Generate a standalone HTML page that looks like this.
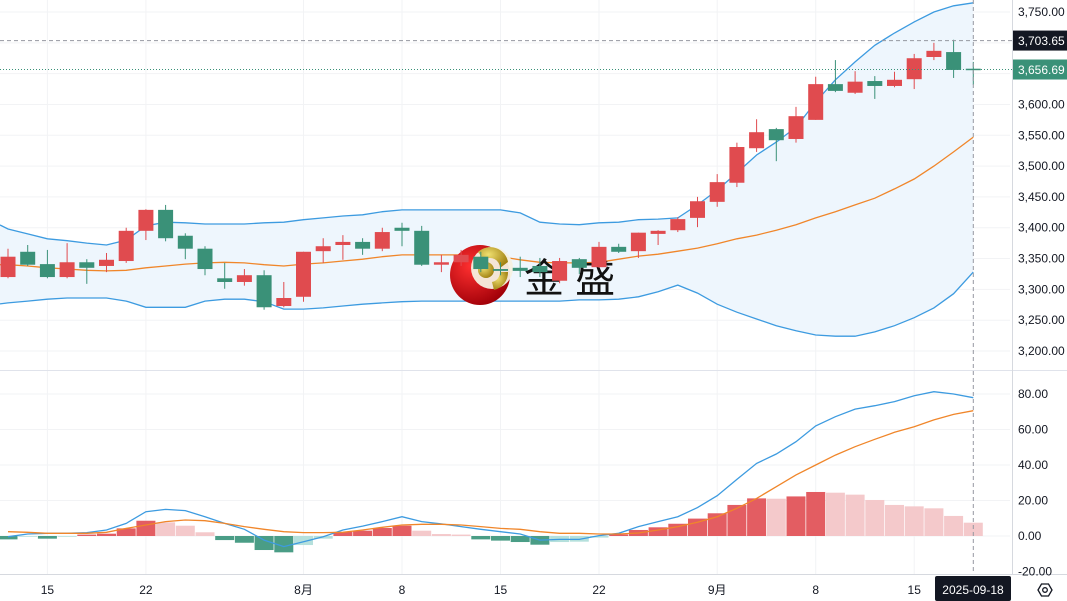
<!DOCTYPE html>
<html><head><meta charset="utf-8">
<style>
html,body{margin:0;padding:0;background:#fff;}
svg{display:block;font-family:"Liberation Sans","Noto Sans CJK SC",sans-serif;}
</style></head>
<body>
<svg id="chart" width="1067" height="601" viewBox="0 0 1067 601" xmlns="http://www.w3.org/2000/svg">
<rect width="1067" height="601" fill="#ffffff"/>
<g id="grid"></g>
<g id="bands"></g>
<g id="logo">
  <defs>
    <radialGradient id="rg" cx="0.35" cy="0.35" r="0.7">
      <stop offset="0" stop-color="#ff3030"/><stop offset="1" stop-color="#a00008"/>
    </radialGradient>
    <radialGradient id="gg" cx="0.35" cy="0.35" r="0.7">
      <stop offset="0" stop-color="#f0e070"/><stop offset="1" stop-color="#a08010"/>
    </radialGradient>
  </defs>
  <circle cx="480" cy="275" r="30" fill="url(#rg)"/>
  <circle cx="492" cy="268" r="21" fill="#f6f0e0" opacity="0.95"/>
  <path d="M478 252 A18 18 0 0 1 508 262 L500 268 A10 10 0 0 0 484 260 Z" fill="url(#gg)"/>
  <path d="M508 272 A18 18 0 0 1 494 290 L492 282 A10 10 0 0 0 500 272 Z" fill="url(#gg)"/>
  <circle cx="486" cy="270" r="8" fill="url(#gg)"/>
  <text x="524" y="292" font-size="40" fill="#111">金 盛</text>
</g>
<g id="candles"></g>
<g id="macd"></g>
<g id="axes"></g>
</svg>
<script>
const dates = ["07-11","07-14","07-15","07-16","07-17","07-18","07-21","07-22","07-23","07-24","07-25","07-28","07-29","07-30","07-31","08-01","08-04","08-05","08-06","08-07","08-08","08-11","08-12","08-13","08-14","08-15","08-18","08-19","08-20","08-21","08-22","08-25","08-26","08-27","08-28","08-29","09-01","09-02","09-03","09-04","09-05","09-08","09-09","09-10","09-11","09-12","09-15","09-16","09-17","09-18"];
const opens = [3320,3361,3341,3320,3344,3338,3346,3395,3429,3387,3366,3318,3312,3323,3273,3288,3362,3372,3377,3366,3400,3395,3340,3344,3353,3333,3335,3338,3314,3349,3336,3369,3362,3390,3396,3416,3442,3473,3529,3560,3544,3575,3633,3619,3638,3630,3641,3677,3685,3658];
const highs = [3366,3372,3364,3375,3349,3359,3400,3430,3437,3391,3370,3343,3333,3331,3312,3361,3383,3388,3383,3400,3408,3403,3356,3364,3361,3344,3353,3351,3351,3351,3377,3374,3392,3396,3417,3450,3487,3538,3576,3562,3596,3645,3672,3654,3646,3653,3682,3700,3705,3669];
const lows = [3318,3338,3318,3318,3309,3328,3343,3380,3378,3349,3323,3301,3306,3267,3271,3280,3343,3348,3356,3362,3370,3338,3328,3338,3328,3323,3320,3320,3310,3325,3335,3359,3351,3372,3393,3401,3434,3466,3523,3508,3538,3575,3620,3617,3609,3628,3625,3672,3643,3632];
const closes = [3353,3340,3320,3344,3335,3348,3395,3429,3383,3366,3333,3312,3323,3271,3286,3361,3370,3377,3366,3393,3395,3340,3344,3356,3333,3330,3330,3328,3346,3335,3369,3361,3392,3395,3414,3443,3474,3531,3555,3542,3581,3633,3622,3637,3630,3640,3675,3687,3656,3656.69];
const bbUpper = [3398,3390,3382,3379,3375,3372,3380,3403,3409,3408,3406,3406,3406,3408,3409,3413,3416,3419,3421,3426,3429,3429,3429,3429,3429,3429,3424,3409,3406,3405,3408,3409,3413,3414,3416,3437,3461,3489,3518,3539,3563,3604,3640,3669,3696,3716,3734,3750,3760,3765];
const bbMiddle = [3340,3338,3335,3333,3331,3330,3331,3335,3338,3341,3343,3344,3343,3340,3338,3341,3343,3346,3349,3353,3356,3356,3356,3356,3354,3353,3348,3344,3343,3343,3344,3349,3354,3357,3362,3367,3374,3382,3388,3396,3405,3416,3426,3437,3448,3463,3479,3500,3523,3547];
const bbLower = [3278,3281,3284,3286,3286,3286,3281,3271,3271,3271,3281,3284,3284,3280,3268,3268,3270,3273,3276,3278,3280,3281,3281,3281,3281,3281,3281,3281,3281,3283,3283,3284,3288,3296,3307,3294,3276,3263,3252,3241,3233,3226,3224,3224,3231,3241,3254,3270,3293,3328];
const macdHist = [-1.9,-0.4,-1.5,-0.3,0.8,1.3,4.3,8.6,7.7,5.8,2.1,-2.3,-3.8,-7.9,-9.2,-5.1,-1.5,2.3,3.0,4.5,5.8,3.0,1.1,0.8,-1.9,-2.6,-3.4,-4.9,-3.4,-3.2,-0.9,0.9,3.4,4.9,6.9,9.8,12.8,17.5,21.2,21.0,22.3,24.8,24.4,23.3,20.3,17.5,16.7,15.6,11.3,7.5];
const macdDif = [-0.4,1.1,1.5,1.5,1.9,3.4,7.1,13.7,15,14.3,10.9,7.1,3.8,-2.3,-6,-3.2,-0.4,3.4,5.6,8.1,10.9,8.1,6.8,5.3,3.8,2.4,1.1,-2.3,-1.9,-1.9,0.2,1.5,5.3,8.1,10.9,16,22.7,31.9,40.9,46.2,53.1,62,67.2,71.5,73.4,75.7,79,81.3,80,77.9];
const macdDea = [2.4,2.1,1.5,1.5,1.5,2.1,4.3,6.2,8.1,9.0,8.6,7.1,5.3,3.8,2.4,1.9,1.9,2.1,3.4,4.9,6.2,6.6,6.6,6.2,5.3,4.3,3.8,2.4,1.5,1.5,1.1,1.1,1.7,3.4,5.3,7.7,10.9,15.6,21.2,27.8,34.4,40,45.6,50.3,54.5,58.4,61.6,65.4,68.5,70.6];
const priceTicks = [3200,3250,3300,3350,3400,3450,3500,3550,3600,3650,3700,3750];
const macdTicks = [0,20,40,60,80];
const timeTicks = [["07-15","15"],["07-22","22"],["08-01","8月"],["08-08","8"],["08-15","15"],["08-22","22"],["09-01","9月"],["09-08","8"],["09-15","15"]];
const lastHigh = 3703.65;

const NS="http://www.w3.org/2000/svg";
const X0=8, DX=19.7, PLOT_R=1010;
const xAt=i=>X0+i*DX;
const yP=p=>12+(3750-p)*0.6164;
const yM=v=>536-v*1.775;
function mk(tag,attrs,parent){const e=document.createElementNS(NS,tag);for(const k in attrs)e.setAttribute(k,attrs[k]);parent.appendChild(e);return e;}
const fmt=v=>v.toLocaleString("en-US",{minimumFractionDigits:2,maximumFractionDigits:2});

const grid=document.getElementById("grid");
priceTicks.forEach(p=>{const l=mk("line",{x1:0,x2:PLOT_R,y1:yP(p),y2:yP(p),stroke:"#f2f3f5"},grid);

});
macdTicks.forEach(v=>{const l=mk("line",{x1:0,x2:PLOT_R,y1:yM(v),y2:yM(v),stroke:"#f2f3f5"},grid);

});
timeTicks.forEach(t=>{const i=dates.indexOf(t[0]);const l=mk("line",{x1:xAt(i),x2:xAt(i),y1:0,y2:574,stroke:"#f2f3f5"},grid);

});

// Bollinger
const bands=document.getElementById("bands");
const up=bbUpper.map((v,i)=>[xAt(i),yP(v)]), lo=bbLower.map((v,i)=>[xAt(i),yP(v)]), mid=bbMiddle.map((v,i)=>[xAt(i),yP(v)]);
up.unshift([0,yP(bbUpper[0])-4]); lo.unshift([0,yP(bbLower[0])+1]); mid.unshift([0,yP(bbMiddle[0])]);
const pts=a=>a.map(p=>p[0].toFixed(1)+","+p[1].toFixed(1)).join(" ");
const fill=mk("polygon",{points:pts(up)+" "+pts(lo.slice().reverse()),fill:"#eef6fd"},bands);


const ub=mk("polyline",{points:pts(up),fill:"none",stroke:"#3d9be0","stroke-width":1.3},bands);


const lb=mk("polyline",{points:pts(lo),fill:"none",stroke:"#3d9be0","stroke-width":1.3},bands);


const mb=mk("polyline",{points:pts(mid),fill:"none",stroke:"#f0862a","stroke-width":1.3},bands);



// Candles
const cg=document.getElementById("candles");
opens.forEach((o,i)=>{
  const c=closes[i], upC=c>=o, col=upC?"#e04b4f":"#3a9178";
  const x=xAt(i);
  const w=mk("line",{x1:x,x2:x,y1:yP(highs[i]),y2:yP(lows[i]),stroke:col,"stroke-width":1},cg);
  
  
  const t=Math.min(yP(o),yP(c)), h=Math.max(1.5,Math.abs(yP(o)-yP(c)));
  const b=mk("rect",{x:x-7.5,y:t,width:15,height:h,fill:col},cg);
  
  
});

// MACD
const mg=document.getElementById("macd");
macdHist.forEach((v,i)=>{
  const prev=i>0?macdHist[i-1]:v;
  let col;
  if(v>=0) col=(v>=prev)?"#e35d62":"#f4c9cb"; else col=(v<=prev)?"#4a9d86":"#b5e0dc";
  const y0=yM(0), y1=yM(v);
  const r=mk("rect",{x:xAt(i)-9.5,y:Math.min(y0,y1),width:19,height:Math.max(0.8,Math.abs(y1-y0)),fill:col},mg);
  
  
});
const dl=mk("polyline",{points:macdDif.map((v,i)=>xAt(i).toFixed(1)+","+yM(v).toFixed(1)).join(" "),fill:"none",stroke:"#3d9be0","stroke-width":1.3},mg);


const el=mk("polyline",{points:macdDea.map((v,i)=>xAt(i).toFixed(1)+","+yM(v).toFixed(1)).join(" "),fill:"none",stroke:"#f0862a","stroke-width":1.3},mg);



// Axes
const ax=document.getElementById("axes");
const sep=mk("line",{x1:0,x2:1067,y1:370.5,y2:370.5,stroke:"#e0e3eb","stroke-width":1},ax);


const tb=mk("line",{x1:0,x2:1067,y1:574.5,y2:574.5,stroke:"#d6d9df"},ax);


const rb=mk("line",{x1:1012.5,x2:1012.5,y1:0,y2:574,stroke:"#d6d9df"},ax);


priceTicks.forEach(p=>{const t=mk("text",{x:1018,y:yP(p)+4,"font-size":12,fill:"#131722"},ax);t.textContent=fmt(p);

});
macdTicks.concat([-20]).forEach(v=>{const t=mk("text",{x:1018,y:yM(v)+4,"font-size":12,fill:"#131722"},ax);t.textContent=fmt(v);

});
timeTicks.forEach(tt=>{const i=dates.indexOf(tt[0]);const t=mk("text",{x:xAt(i),y:594,"font-size":12,fill:"#131722","text-anchor":"middle"},ax);t.textContent=tt[1];

});
// last price line
const lastY=yP(closes[closes.length-1]);
const lp=mk("line",{x1:0,x2:1012,y1:lastY,y2:lastY,stroke:"#3a9178","stroke-dasharray":"1,2"},ax);


// crosshair
const hy=yP(lastHigh), cx=xAt(closes.length-1);
const ch=mk("line",{x1:0,x2:1012,y1:hy,y2:hy,stroke:"#9598a1","stroke-dasharray":"4,3"},ax);


const cv=mk("line",{x1:cx,x2:cx,y1:0,y2:574,stroke:"#9598a1","stroke-dasharray":"4,3"},ax);


const hb=mk("rect",{x:1013,y:hy-10,width:54,height:20,fill:"#131722"},ax);


const ht=mk("text",{x:1018,y:hy+4.5,"font-size":12,fill:"#fff"},ax);ht.textContent=fmt(lastHigh);


const lbx=mk("rect",{x:1013,y:lastY-10,width:54,height:20,fill:"#3a9178"},ax);


const lt=mk("text",{x:1018,y:lastY+4.5,"font-size":12,fill:"#fff"},ax);lt.textContent=fmt(closes[closes.length-1]);


const db=mk("rect",{x:935,y:576,width:76,height:25,rx:2,fill:"#131722"},ax);


const dt=mk("text",{x:973,y:594,"font-size":12,fill:"#fff","text-anchor":"middle"},ax);dt.textContent="2025-"+dates[dates.length-1];


const gear=mk("g",{},ax);


mk("polygon",{points:"1038,590 1041.5,584 1048.5,584 1052,590 1048.5,596 1041.5,596",fill:"none",stroke:"#131722","stroke-width":1.3},gear);
mk("circle",{cx:1045,cy:590,r:2.3,fill:"none",stroke:"#131722","stroke-width":1.3},gear);
</script>
</body></html>
